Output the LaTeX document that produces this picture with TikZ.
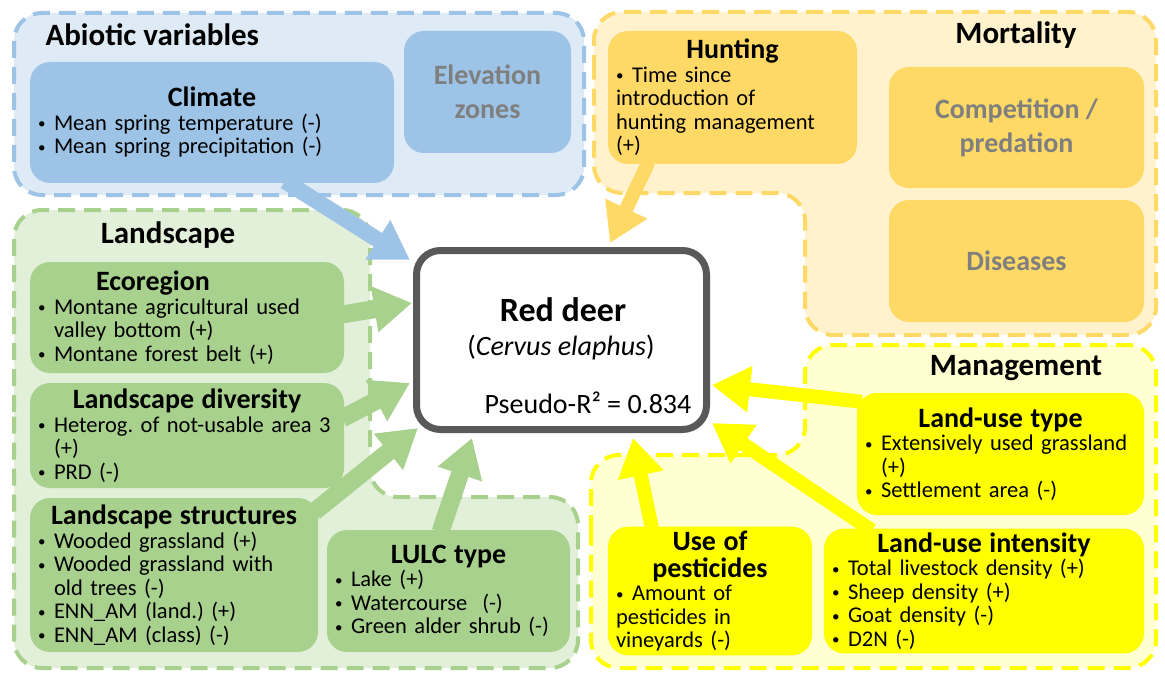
\documentclass[tikz,border=0pt]{standalone}
\usepackage{fontspec}
\setmainfont{Carlito}
\usetikzlibrary{arrows.meta, positioning, calc}
\definecolor{abioback}{HTML}{DEEBF7}
\definecolor{abiomid}{HTML}{9DC3E6}
\definecolor{landback}{HTML}{E2F0D9}
\definecolor{landmid}{HTML}{A9D18E}
\definecolor{mortback}{HTML}{FFF2CC}
\definecolor{mortmid}{HTML}{FFD966}
\definecolor{mgmtback}{HTML}{FFFFD1}
\definecolor{mgmtmid}{HTML}{FFFF00}
\definecolor{greytext}{HTML}{7F7F7F}
\definecolor{deerborder}{HTML}{595959}
\frenchspacing
\newcommand{\figbody}{\fontsize{22.5}{23.5}\selectfont}
\newcommand{\figtitle}{\fontsize{28}{27}\selectfont\bfseries}
\newcommand{\fighead}{\fontsize{31}{32}\selectfont\bfseries}
\newcommand{\figgrey}{\fontsize{28}{34}\selectfont\bfseries}
\newcommand{\btitle}[1]{{\centering\figtitle #1\par}}
\newcommand{\brk}{\hfil\break}
\newcommand{\bitem}[1]{\par\hangindent=16pt\hangafter=1\noindent
    \makebox[16pt][l]{\raisebox{1.5pt}{\fontsize{15}{15}\selectfont\textbullet}}#1}

\begin{document}
\begin{tikzpicture}[
    x=1pt, y=-1pt,
    group/.style={line width=4pt, dash pattern=on 17pt off 9pt, rounded corners=28pt},
    inbox/.style={rounded corners=20pt, inner xsep=8pt, inner ysep=4pt, align=left, font=\figbody},
    greybox/.style={rounded corners=20pt, align=center, font=\figgrey, text=greytext},
    head/.style={font=\fighead},
    conn/.style={line width=16pt, -{Triangle[width=44pt,length=38pt]}}
]
\useasboundingbox (0,0) rectangle (1165,674);

% gruppi
\draw[group, fill=abioback, draw=abiomid] (14,13) rectangle (584,195);
\draw[group, fill=landback, draw=landmid] (14,440) -- (14,210) -- (370,210) -- (370,497)
    -- (578,497) -- (578,668) -- (14,668) -- cycle;
\draw[group, fill=mortback, draw=mortmid] (594,100) -- (594,12) -- (1156,12) -- (1156,335)
    -- (805,335) -- (805,193) -- (594,193) -- cycle;
\draw[group, fill=mgmtback, draw=mgmtmid] (591,560) -- (591,455) -- (805,455) -- (805,345)
    -- (1156,345) -- (1156,668) -- (591,668) -- cycle;

\node[head, anchor=west] (abiohead) at (42,35) {Abiotic variables};
\node[head] (landhead) at (168,235) {Landscape};
\node[head] (morthead) at (1016,35) {Mortality};
\node[head] (mgmthead) at (1016,368) {Management};

% riquadri interni
\node[inbox, fill=abiomid, text width=348pt, minimum height=121pt] (climate) at (212,122.5)
    {\btitle{Climate}\bitem{Mean spring temperature (-)}\bitem{Mean spring precipitation (-)}};
\node[greybox, fill=abiomid, minimum width=167pt, minimum height=122pt] (elev) at (487.5,92)
    {Elevation\\zones};
\node[inbox, fill=landmid, text width=298pt, minimum height=111pt] (eco) at (187,317.5)
    {\btitle{\hspace*{-68pt}Ecoregion}\bitem{Montane agricultural used\brk valley bottom (+)}\bitem{Montane forest belt (+)}};
\node[inbox, fill=landmid, text width=298pt, minimum height=105pt] (div) at (187,435.5)
    {\btitle{Landscape diversity}\bitem{Heterog. of not-usable area 3\brk (+)}\bitem{PRD (-)}};
\node[inbox, fill=landmid, text width=272pt, minimum height=154pt] (struct) at (174,575)
    {\btitle{Landscape structures}\bitem{Wooded grassland (+)}\bitem{Wooded grassland with\brk old trees (-)}\bitem{ENN\_AM (land.) (+)}\bitem{ENN\_AM (class) (-)}};
\node[inbox, fill=landmid, text width=227pt, minimum height=122pt] (lulc) at (448.5,591)
    {\btitle{LULC type}\bitem{Lake (+)}\bitem{Watercourse\ \ (-)}\bitem{Green alder shrub (-)}};
\node[inbox, fill=mortmid, text width=233pt, minimum height=133pt] (hunt) at (732.5,97.5)
    {\btitle{Hunting}\bitem{Time since\brk introduction of\brk hunting management\brk (+)}};
\node[greybox, fill=mortmid, minimum width=255pt, minimum height=121pt] (comp) at (1016.5,127.5)
    {Competition /\\predation};
\node[greybox, fill=mortmid, minimum width=255pt, minimum height=122pt] (dis) at (1016.5,261)
    {Diseases};
\node[inbox, fill=mgmtmid, text width=271pt, minimum height=122pt] (lut) at (1000.5,454)
    {\btitle{Land-use type}\bitem{Extensively used grassland\brk (+)}\bitem{Settlement area (-)}};
\node[inbox, fill=mgmtmid, text width=188pt, minimum height=122pt] (pest) at (710,591)
    {\btitle{Use of\\pesticides}\bitem{Amount of\brk pesticides in\brk vineyards (-)}};
\node[inbox, fill=mgmtmid, text width=304pt, minimum height=122pt] (lui) at (984,591)
    {\btitle{Land-use intensity}\bitem{Total livestock density (+)}\bitem{Sheep density (+)}\bitem{Goat density (-)}\bitem{D2N (-)}};

% specie
\node[draw=deerborder, line width=7pt, rounded corners=24pt, fill=white,
      minimum width=290pt, minimum height=179pt] (deer) at (561.5,340) {};
\node[font=\fontsize{34}{36}\selectfont\bfseries] (deername) at (563,310) {Red deer};
\node[font=\fontsize{28}{30}\selectfont] (deerlatin) at (561,348) {(\textit{Cervus elaphus})};
\node[font=\fontsize{28}{30}\selectfont] (deerfit) at (588,403) {Pseudo-R² = 0.834};

% frecce
\draw[conn, abiomid] ($(climate.south)+(73,-2)$) -- ($(deer.north west)+(-3,13)$);
\draw[conn, landmid, line width=18pt] ($(eco.east)+(-2,-3)$) -- ($(deer.west)+(-1,-37)$);
\draw[conn, landmid, line width=18pt] ($(div.east)+(-2,-17)$) -- ($(deer.west)+(-3,43)$);
\draw[conn, landmid, line width=18pt] ($(struct.north east)+(-4,14)$) -- ($(deer.south west)+(5,-5)$);
\draw[conn, landmid, line width=18pt] ($(lulc.north)+(-8,2)$) -- ($(deer.south west)+(59,5)$);
\draw[conn, mortmid, line width=14pt] ($(hunt.south)+(-84,-2)$) -- ($(deer.north east)+(-100,-4)$);
\draw[conn, mgmtmid, line width=14pt] ($(lut.north west)+(5,9)$) -- ($(deer.east)+(2,45)$);
\draw[conn, mgmtmid, line width=14pt] ($(lui.north west)+(48,2)$) -- ($(deer.south east)+(2,-10)$);
\draw[conn, mgmtmid, line width=14pt] ($(pest.north)+(-58,2)$) -- ($(deer.south)+(71.5,5)$);
\end{tikzpicture}
\end{document}
